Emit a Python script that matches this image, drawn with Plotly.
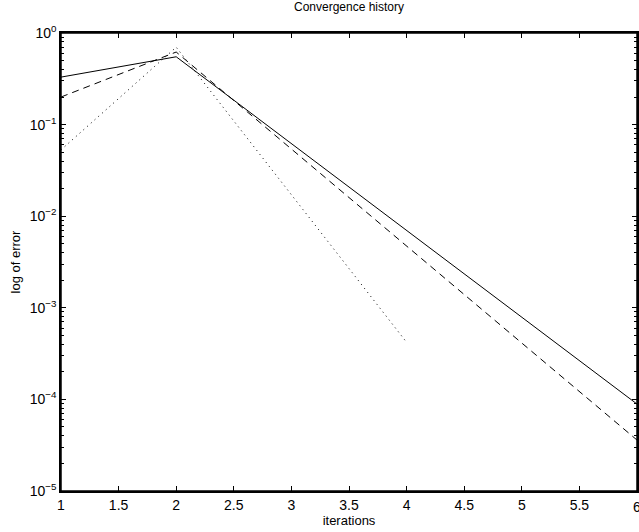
import plotly.graph_objects as go

iterations_a = [1, 2, 6]
err_solid = [0.33, 0.55, 8.9e-5]
err_dashed = [0.20, 0.62, 3.6e-5]
iterations_b = [1, 2, 4]
err_dotted = [0.053, 0.70, 4.2e-4]

ytick_vals = [1e-5, 1e-4, 1e-3, 1e-2, 1e-1, 1e0]
ytick_text = ["10<sup>−5</sup>", "10<sup>−4</sup>", "10<sup>−3</sup>",
              "10<sup>−2</sup>", "10<sup>−1</sup>", "10<sup>0</sup>"]
xtick_vals = [1, 1.5, 2, 2.5, 3, 3.5, 4, 4.5, 5, 5.5, 6]
xtick_text = ["1", "1.5", "2", "2.5", "3", "3.5", "4", "4.5", "5", "5.5", "6"]
yminor_vals = [m * d for d in ytick_vals[:-1] for m in range(2, 10)]

fig = go.Figure()
fig.add_trace(go.Scatter(x=iterations_a, y=err_solid, mode="lines",
                         line=dict(color="black", width=1)))
fig.add_trace(go.Scatter(x=iterations_a, y=err_dashed, mode="lines",
                         line=dict(color="black", width=1, dash="7px,5px")))
fig.add_trace(go.Scatter(x=iterations_b, y=err_dotted, mode="lines",
                         line=dict(color="black", width=1, dash="1px,4px")))

font = dict(family="Liberation Sans, Arial, sans-serif", size=14, color="black")
fig.update_layout(
    width=639, height=532,
    margin=dict(l=61, r=2, t=33, b=41, autoexpand=False),
    paper_bgcolor="white", plot_bgcolor="white",
    showlegend=False,
    font=font,
    title=dict(text="Convergence history", x=(61 + 637) / 2 / 639, xanchor="center",
               y=1 - 3 / 532, yanchor="top", font=dict(size=12)),
    shapes=[dict(type="rect", xref="paper", yref="paper", x0=0, x1=1, y0=0, y1=1,
                 line=dict(color="black", width=1.5), layer="above")],
    annotations=[dict(text="6", xref="x", yref="paper", x=6, y=0, yshift=-6,
                      xanchor="center", yanchor="top", showarrow=False,
                      font=dict(size=14))],
)
fig.update_xaxes(range=[1, 6], tickvals=xtick_vals[:-1], ticktext=xtick_text[:-1],
                 automargin=False,
                 showgrid=False, zeroline=False, showline=True, linecolor="black",
                 linewidth=1.5, mirror="allticks", ticks="inside", ticklen=5,
                 tickcolor="black",
                 title=dict(text="iterations", standoff=1, font=dict(size=13)))
fig.update_yaxes(type="log", range=[-5, 0], tickvals=ytick_vals, ticktext=ytick_text,
                 automargin=False,
                 showgrid=False, zeroline=False, showline=True, linecolor="black",
                 linewidth=1.5, mirror="allticks", ticks="inside", ticklen=5,
                 tickcolor="black",
                 minor=dict(ticks="inside", ticklen=3, tickcolor="black",
                            tickvals=yminor_vals, showgrid=False),
                 title=dict(text="log of error", standoff=6, font=dict(size=13)))

fig.write_html("out.html", config={"displayModeBar": False},
               post_script="document.body.style.margin='0';"
                           "document.body.style.overflow='hidden';")
